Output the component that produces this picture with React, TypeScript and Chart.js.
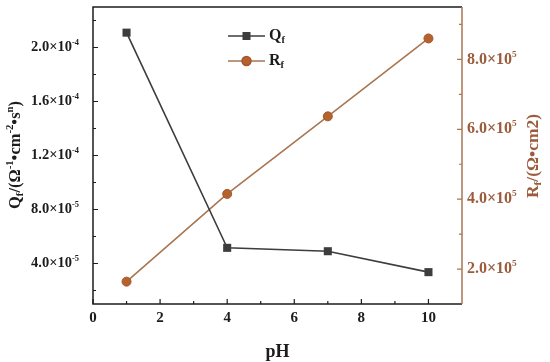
import React, { useEffect, useRef } from "react";
import { Chart, registerables } from "chart.js";

Chart.register(...registerables);

const pH = [1, 4, 7, 10];
const qfValues = [2.11e-4, 5.16e-5, 4.91e-5, 3.36e-5];
const rfValues = [1.64e5, 4.15e5, 6.37e5, 8.6e5];

const xTicks = [0, 2, 4, 6, 8, 10];
const xMinorTicks = [1, 3, 5, 7, 9];
const qTicks = [4e-5, 8e-5, 1.2e-4, 1.6e-4, 2e-4];
const qTickMantissa = ["4.0", "8.0", "1.2", "1.6", "2.0"];
const qTickExp = ["-5", "-5", "-4", "-4", "-4"];
const qMinorTicks = [2e-5, 6e-5, 1e-4, 1.4e-4, 1.8e-4, 2.2e-4];
const rTicks = [2e5, 4e5, 6e5, 8e5];
const rTickMantissa = ["2.0", "4.0", "6.0", "8.0"];
const rTickExp = ["5", "5", "5", "5"];
const rMinorTicks = [3e5, 5e5, 7e5, 9e5];

const FONT = '"Liberation Serif", "Times New Roman", serif';
const DARK = "#1c1c1c";
const QCOL = "#3d3d3d";
const RLINE = "#a87650";
const RPOINT = "#b4622e";
const RTEXT = "#9c5c3c";

type Seg = { t: string; m?: "sup" | "sub" };

function richWidth(ctx: CanvasRenderingContext2D, segs: Seg[], size: number, ratio: number) {
  let w = 0;
  for (const s of segs) {
    const sz = s.m ? size * ratio : size;
    ctx.font = `bold ${sz}px ${FONT}`;
    w += ctx.measureText(s.t).width;
  }
  return w;
}

function drawRich(
  ctx: CanvasRenderingContext2D,
  segs: Seg[],
  x: number,
  y: number,
  size: number,
  align: "left" | "right" | "center",
  ratio = 0.65
) {
  const w = richWidth(ctx, segs, size, ratio);
  let cx = align === "left" ? x : align === "right" ? x - w : x - w / 2;
  ctx.textBaseline = "middle";
  ctx.textAlign = "left";
  for (const s of segs) {
    const sz = s.m ? size * ratio : size;
    ctx.font = `bold ${sz}px ${FONT}`;
    const dy = s.m === "sup" ? -size * 0.33 : s.m === "sub" ? size * 0.28 : 0;
    ctx.fillText(s.t, cx, y + dy);
    cx += ctx.measureText(s.t).width;
  }
}

const decorPlugin = {
  id: "decor",
  beforeDatasetsDraw(chart: any) {
    const ctx: CanvasRenderingContext2D = chart.ctx;
    const { left, right, top, bottom } = chart.chartArea;
    const xs = chart.scales.x;
    const yq = chart.scales.yq;
    const yr = chart.scales.yr;
    ctx.save();
    ctx.lineWidth = 1.5;
    ctx.strokeStyle = DARK;
    ctx.beginPath();
    ctx.moveTo(right, top);
    ctx.lineTo(left, top);
    ctx.lineTo(left, bottom);
    ctx.lineTo(right, bottom);
    ctx.stroke();
    ctx.strokeStyle = RLINE;
    ctx.beginPath();
    ctx.moveTo(right, top);
    ctx.lineTo(right, bottom);
    ctx.stroke();

    ctx.lineWidth = 1.2;
    ctx.strokeStyle = DARK;
    ctx.beginPath();
    for (const v of xTicks) {
      const px = xs.getPixelForValue(v);
      ctx.moveTo(px, bottom);
      ctx.lineTo(px, bottom - 5);
    }
    for (const v of xMinorTicks) {
      const px = xs.getPixelForValue(v);
      ctx.moveTo(px, bottom);
      ctx.lineTo(px, bottom - 3);
    }
    for (const v of qTicks) {
      const py = yq.getPixelForValue(v);
      ctx.moveTo(left, py);
      ctx.lineTo(left + 5, py);
    }
    for (const v of qMinorTicks) {
      const py = yq.getPixelForValue(v);
      ctx.moveTo(left, py);
      ctx.lineTo(left + 3, py);
    }
    ctx.stroke();
    ctx.strokeStyle = RLINE;
    ctx.beginPath();
    for (const v of rTicks) {
      const py = yr.getPixelForValue(v);
      ctx.moveTo(right, py);
      ctx.lineTo(right - 5, py);
    }
    for (const v of rMinorTicks) {
      const py = yr.getPixelForValue(v);
      ctx.moveTo(right, py);
      ctx.lineTo(right - 3, py);
    }
    ctx.stroke();
    ctx.restore();
  },
  afterDraw(chart: any) {
    const ctx: CanvasRenderingContext2D = chart.ctx;
    const { left, right, bottom } = chart.chartArea;
    const xs = chart.scales.x;
    const yq = chart.scales.yq;
    const yr = chart.scales.yr;
    ctx.save();
    // x tick labels
    ctx.fillStyle = DARK;
    xTicks.forEach((v) => {
      drawRich(ctx, [{ t: String(v) }], xs.getPixelForValue(v), bottom + 14, 15, "center");
    });
    // left tick labels
    qTicks.forEach((v, i) => {
      drawRich(
        ctx,
        [{ t: qTickMantissa[i] + "×10" }, { t: qTickExp[i], m: "sup" }],
        left - 14,
        yq.getPixelForValue(v),
        14.5,
        "right",
        0.58
      );
    });
    // right tick labels
    ctx.fillStyle = RTEXT;
    rTicks.forEach((v, i) => {
      drawRich(
        ctx,
        [{ t: rTickMantissa[i] + "×10" }, { t: rTickExp[i], m: "sup" }],
        right + 5,
        yr.getPixelForValue(v),
        16,
        "left",
        0.58
      );
    });
    // x title
    ctx.fillStyle = DARK;
    drawRich(ctx, [{ t: "pH" }], (left + right) / 2, 352, 18, "center");
    // left title
    ctx.save();
    ctx.translate(16, 155);
    ctx.rotate(-Math.PI / 2);
    drawRich(
      ctx,
      [
        { t: "Q" },
        { t: "f", m: "sub" },
        { t: "/(Ω" },
        { t: "-1", m: "sup" },
        { t: "•cm" },
        { t: "-2", m: "sup" },
        { t: "•s" },
        { t: "n", m: "sup" },
        { t: ")" },
      ],
      0,
      0,
      16.5,
      "center"
    );
    ctx.restore();
    // right title
    ctx.save();
    ctx.fillStyle = RTEXT;
    ctx.translate(533, 156);
    ctx.rotate(-Math.PI / 2);
    drawRich(ctx, [{ t: "R" }, { t: "f", m: "sub" }, { t: "/(Ω•cm2)" }], 0, 0, 17.5, "center");
    ctx.restore();

    // legend
    const lx0 = 228;
    const lx1 = 265;
    const rows = [
      { y: 36, color: QCOL, point: "rect", label: "Q", fill: QCOL, stroke: QCOL },
      { y: 61, color: RLINE, point: "circle", label: "R", fill: RPOINT, stroke: "#a5552a" },
    ];
    for (const r of rows) {
      ctx.strokeStyle = r.color;
      ctx.lineWidth = 1.5;
      ctx.beginPath();
      ctx.moveTo(lx0, r.y);
      ctx.lineTo(lx1, r.y);
      ctx.stroke();
      ctx.fillStyle = r.fill;
      ctx.strokeStyle = r.stroke;
      const cx = (lx0 + lx1) / 2;
      if (r.point === "rect") {
        ctx.fillRect(cx - 4, r.y - 4, 8, 8);
      } else {
        ctx.beginPath();
        ctx.arc(cx, r.y, 4.5, 0, Math.PI * 2);
        ctx.fill();
        ctx.stroke();
      }
      ctx.fillStyle = DARK;
      drawRich(ctx, [{ t: r.label }, { t: "f", m: "sub" }], 269, r.y, 16, "left");
    }
    ctx.restore();
  },
};

export default function App() {
  const canvasRef = useRef<HTMLCanvasElement | null>(null);

  useEffect(() => {
    if (!canvasRef.current) return;
    const chart = new Chart(canvasRef.current, {
      type: "line",
      data: {
        datasets: [
          {
            label: "Qf",
            data: pH.map((x, i) => ({ x, y: qfValues[i] })),
            yAxisID: "yq",
            borderColor: QCOL,
            backgroundColor: QCOL,
            borderWidth: 1.6,
            pointStyle: "rect",
            pointRadius: 5.7,
            pointBorderWidth: 0,
            tension: 0,
          },
          {
            label: "Rf",
            data: pH.map((x, i) => ({ x, y: rfValues[i] })),
            yAxisID: "yr",
            borderColor: RLINE,
            backgroundColor: RPOINT,
            pointBorderColor: "#a5552a",
            borderWidth: 1.6,
            pointStyle: "circle",
            pointRadius: 4.5,
            pointBorderWidth: 1,
            tension: 0,
          },
        ],
      },
      options: {
        animation: false,
        responsive: true,
        maintainAspectRatio: false,
        layout: { padding: { left: 93, right: 88, top: 7, bottom: 58 } },
        plugins: { legend: { display: false }, tooltip: { enabled: false } },
        scales: {
          x: { type: "linear", min: 0, max: 11, display: false },
          yq: { type: "linear", position: "left", min: 1e-5, max: 2.3e-4, display: false },
          yr: { type: "linear", position: "right", min: 1e5, max: 9.5e5, display: false },
        },
      },
      plugins: [decorPlugin],
    });
    return () => chart.destroy();
  }, []);

  return (
    <div style={{ position: "fixed", left: 0, top: 0, width: 550, height: 362, background: "#fff" }}>
      <canvas ref={canvasRef} />
    </div>
  );
}
